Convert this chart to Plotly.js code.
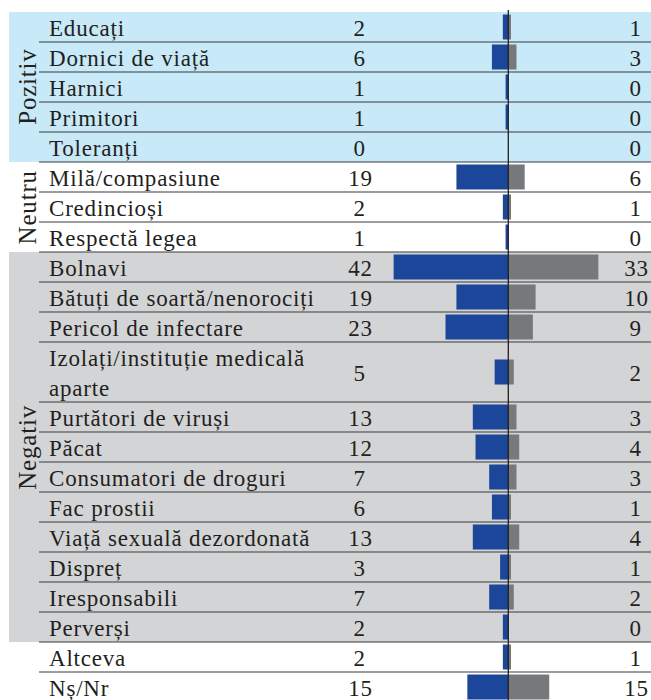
<!DOCTYPE html>
<html>
<head>
<meta charset="utf-8">
<script src="https://cdn.plot.ly/plotly-3.0.1.min.js"></script>
<style>
  html, body { margin: 0; padding: 0; background: #ffffff; }
  #chart { width: 651px; height: 700px; }
  #chart .annotation-text { letter-spacing: 0.8px; }
</style>
</head>
<body>
<div id="chart"></div>
<script>
// ---- Data ----
var categories = [
  "Educați", "Dornici de viață", "Harnici", "Primitori", "Toleranți",
  "Milă/compasiune", "Credincioși", "Respectă legea",
  "Bolnavi", "Bătuți de soartă/nenorociți", "Pericol de infectare",
  "Izolați/instituție medicală<br>aparte", "Purtători de viruși", "Păcat",
  "Consumatori de droguri", "Fac prostii", "Viață sexuală dezordonată",
  "Dispreț", "Iresponsabili", "Perverși",
  "Altceva", "Nș/Nr"
];
var leftValues  = [2, 6, 1, 1, 0, 19, 2, 1, 42, 19, 23, 5, 13, 12, 7, 6, 13, 3, 7, 2, 2, 15];
var rightValues = [1, 3, 0, 0, 0, 6, 1, 0, 33, 10, 9, 2, 3, 4, 3, 1, 4, 1, 2, 0, 1, 15];
var rowGroups = ["Pozitiv","Pozitiv","Pozitiv","Pozitiv","Pozitiv",
  "Neutru","Neutru","Neutru",
  "Negativ","Negativ","Negativ","Negativ","Negativ","Negativ","Negativ","Negativ","Negativ","Negativ","Negativ","Negativ",
  "", ""];
var groupNames = ["Pozitiv", "Neutru", "Negativ"];
var groupFills = {"Pozitiv": "#c8e9f8", "Neutru": "#ffffff", "Negativ": "#d3d4d6"};

// ---- Layout helpers ----
var W = 651, H = 700;
var TOP = 12;            // px top margin
var ROW = 30;            // px per row unit
var CENTER_PX = 508.3;   // px of the zero line
var PX_PER_UNIT = 2.73;  // px per value unit

// row spans (label line count)
var spans = categories.map(function (c) { return c.split("<br>").length; });
var tops = [], centers = [];
var acc = 0;
spans.forEach(function (s) { tops.push(acc); centers.push(acc + s / 2); acc += s; });

var font = { family: "Liberation Serif", size: 23, color: "#231f20" };
var groupFont = { family: "Liberation Serif", size: 25, color: "#231f20" };

var shapes = [];
var annotations = [];

// group bands + group labels
groupNames.forEach(function (g) {
  var idx = [];
  rowGroups.forEach(function (rg, i) { if (rg === g) idx.push(i); });
  var y0 = tops[idx[0]];
  var y1 = tops[idx[idx.length - 1]] + spans[idx[idx.length - 1]];
  shapes.push({
    type: "rect", xref: "paper", yref: "y", layer: "below",
    x0: 9 / W, x1: 1, y0: y0, y1: y1,
    fillcolor: groupFills[g], line: { width: 0 }
  });
  annotations.push({
    xref: "paper", yref: "y", x: 27 / W, y: (y0 + y1) / 2,
    text: g, textangle: -90, showarrow: false,
    xanchor: "center", yanchor: "middle", font: groupFont
  });
});

// row separator lines
for (var i = 1; i < categories.length; i++) {
  shapes.push({
    type: "line", xref: "paper", yref: "y", layer: "below",
    x0: 39 / W, x1: 1, y0: tops[i], y1: tops[i],
    line: { color: "#3a3a3a", width: 1.2 }
  });
}

// centre line
shapes.push({
  type: "line", xref: "x", yref: "paper", layer: "above",
  x0: 0, x1: 0, y0: 0, y1: 1.003,
  line: { color: "#231f20", width: 1.3 }
});

// text labels
categories.forEach(function (c, i) {
  annotations.push({
    xref: "paper", yref: "y", x: 47 / W, y: centers[i], yshift: -1,
    text: c, showarrow: false, xanchor: "left", yanchor: "middle",
    align: "left", font: font
  });
  annotations.push({
    xref: "paper", yref: "y", x: 360 / W, y: centers[i], yshift: -1,
    text: String(leftValues[i]), showarrow: false, xanchor: "center", yanchor: "middle",
    font: font
  });
  annotations.push({
    xref: "paper", yref: "y", x: 636 / W, y: centers[i], yshift: -1,
    text: String(rightValues[i]), showarrow: false, xanchor: "center", yanchor: "middle",
    font: font
  });
});

var barWidth = categories.map(function () { return 25 / ROW; });

var traces = [
  {
    type: "bar", orientation: "h",
    x: leftValues.map(function (v) { return -v; }),
    y: centers, width: barWidth,
    marker: { color: "#1b4699", line: { width: 0 } },
    hoverinfo: "skip", showlegend: false
  },
  {
    type: "bar", orientation: "h",
    x: rightValues, y: centers, width: barWidth,
    marker: { color: "#77787c", line: { width: 0 } },
    hoverinfo: "skip", showlegend: false
  }
];

var plotH = H - TOP;
var layout = {
  width: W, height: H,
  margin: { l: 0, r: 0, t: TOP, b: 0, pad: 0 },
  paper_bgcolor: "#ffffff", plot_bgcolor: "rgba(0,0,0,0)",
  barmode: "overlay",
  showlegend: false,
  xaxis: {
    range: [-CENTER_PX / PX_PER_UNIT, (W - CENTER_PX) / PX_PER_UNIT],
    visible: false, fixedrange: true
  },
  yaxis: {
    range: [plotH / ROW, 0],
    visible: false, fixedrange: true
  },
  shapes: shapes,
  annotations: annotations,
  font: font
};

Plotly.newPlot("chart", traces, layout, { displayModeBar: false, staticPlot: true });
</script>
</body>
</html>
